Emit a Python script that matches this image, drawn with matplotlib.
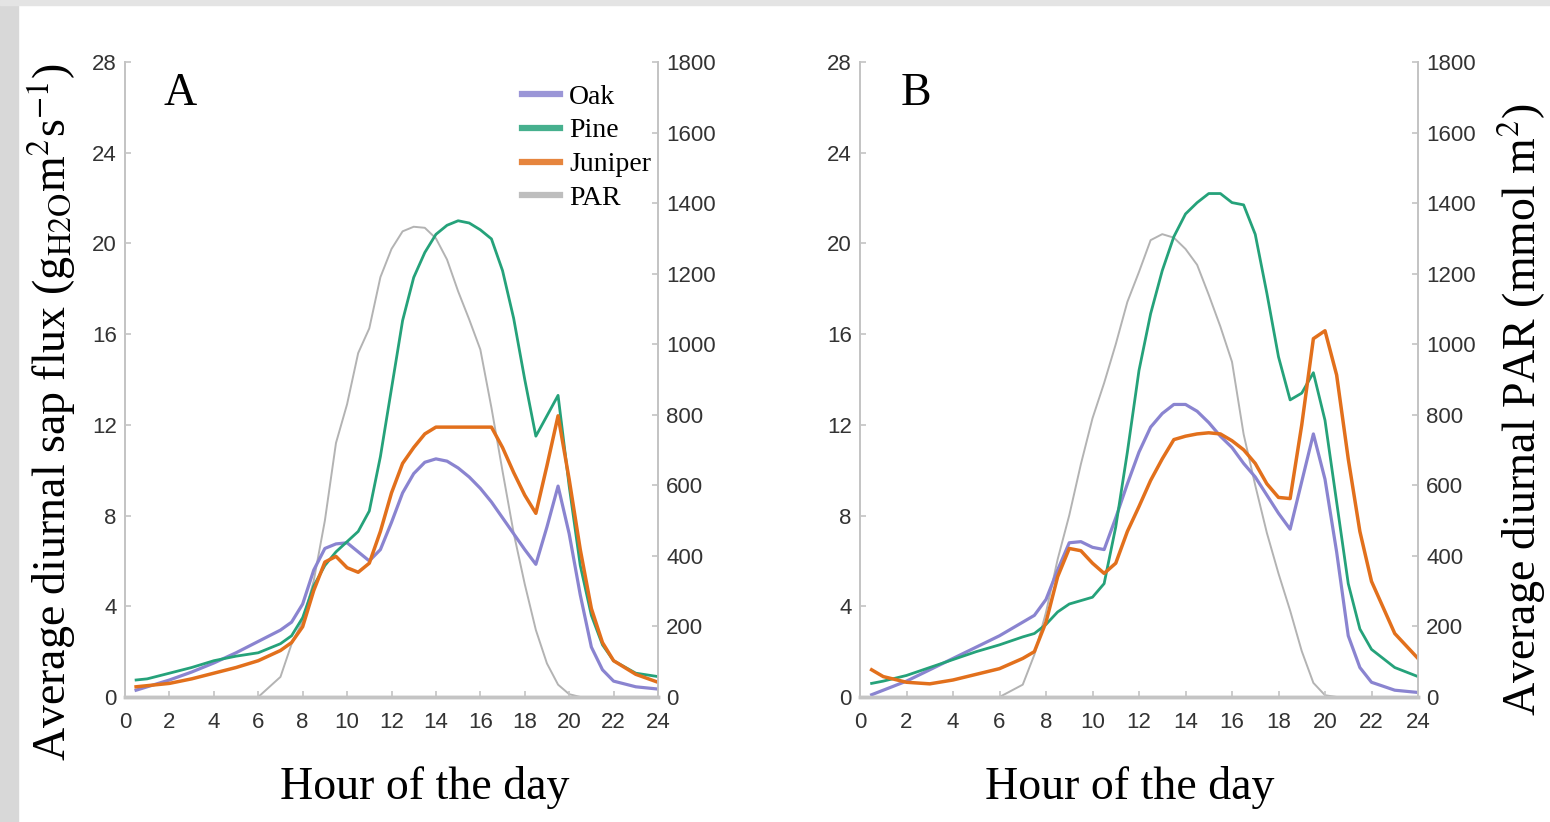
import numpy as np
import matplotlib.pyplot as plt
from matplotlib.lines import Line2D
from matplotlib.patches import Rectangle

plt.rcParams['mathtext.fontset'] = 'stix'

# hour grid used for both panels
hours = [0.5, 1, 2, 3, 4, 5, 6, 7, 7.5, 8, 8.5, 9, 9.5, 10, 10.5, 11, 11.5, 12, 12.5, 13,
         13.5, 14, 14.5, 15, 15.5, 16, 16.5, 17, 17.5, 18, 18.5, 19, 19.5, 20, 20.5, 21,
         21.5, 22, 23, 24]

# panel A (sap flux, g m-2 s-1)
oak_a = [0.3, 0.45, 0.75, 1.1, 1.5, 1.95, 2.45, 2.95, 3.3, 4.1, 5.6, 6.55, 6.75, 6.8, 6.4, 6.0,
         6.5, 7.7, 9.0, 9.85, 10.35, 10.5, 10.4, 10.1, 9.7, 9.2, 8.6, 7.9, 7.2, 6.5, 5.85, 7.5,
         9.3, 7.2, 4.5, 2.2, 1.2, 0.7, 0.45, 0.35]
pine_a = [0.75, 0.8, 1.05, 1.3, 1.6, 1.8, 1.95, 2.35, 2.7, 3.5, 4.9, 5.8, 6.4, 6.85, 7.3, 8.2,
          10.6, 13.6, 16.6, 18.5, 19.6, 20.4, 20.8, 21.0, 20.9, 20.6, 20.2, 18.8, 16.7, 14.0,
          11.5, 12.4, 13.3, 9.3, 5.8, 3.6, 2.3, 1.6, 1.05, 0.9]
juniper_a = [0.45, 0.5, 0.6, 0.8, 1.05, 1.3, 1.6, 2.05, 2.4, 3.1, 4.7, 5.95, 6.2, 5.7, 5.5, 5.9,
             7.3, 9.0, 10.3, 11.0, 11.6, 11.9, 11.9, 11.9, 11.9, 11.9, 11.9, 11.0, 9.9, 8.9,
             8.1, 10.2, 12.4, 9.6, 6.5, 3.9, 2.4, 1.6, 1.0, 0.65]
par_a = [0, 0, 0, 0, 0, 0, 0, 57, 150, 215, 330, 500, 720, 830, 975, 1045, 1190, 1270, 1320,
         1333, 1330, 1300, 1240, 1150, 1070, 985, 820, 640, 465, 320, 190, 95, 35, 8, 0, 0,
         0, 0, 0, 0]

# panel B
oak_b = [0.1, 0.3, 0.7, 1.2, 1.7, 2.2, 2.7, 3.3, 3.6, 4.3, 5.6, 6.8, 6.85, 6.6, 6.5, 7.9, 9.4,
         10.8, 11.9, 12.5, 12.9, 12.9, 12.6, 12.1, 11.5, 11.0, 10.3, 9.7, 8.9, 8.1, 7.4, 9.5,
         11.6, 9.6, 6.4, 2.7, 1.3, 0.65, 0.3, 0.2]
pine_b = [0.6, 0.7, 0.95, 1.3, 1.65, 2.0, 2.3, 2.65, 2.8, 3.2, 3.75, 4.1, 4.25, 4.4, 5.0, 7.5,
          10.8, 14.4, 16.9, 18.8, 20.3, 21.3, 21.8, 22.2, 22.2, 21.8, 21.7, 20.4, 17.8, 15.0,
          13.1, 13.4, 14.3, 12.2, 8.6, 5.0, 3.0, 2.1, 1.3, 0.9]
juniper_b = [1.2, 0.9, 0.65, 0.58, 0.75, 1.0, 1.25, 1.7, 2.0, 3.3, 5.3, 6.55, 6.45, 5.9, 5.45,
             5.9, 7.3, 8.4, 9.55, 10.5, 11.35, 11.5, 11.6, 11.65, 11.6, 11.3, 10.9, 10.3, 9.4,
             8.8, 8.75, 12.0, 15.8, 16.15, 14.2, 10.5, 7.3, 5.1, 2.8, 1.7]
par_b = [0, 0, 0, 0, 0, 0, 0, 35, 120, 240, 390, 515, 660, 790, 890, 1000, 1120, 1205, 1295,
         1312, 1302, 1270, 1225, 1140, 1050, 950, 745, 600, 465, 350, 245, 130, 40, 5, 0, 0,
         0, 0, 0, 0]

names = ['Oak', 'Pine', 'Juniper', 'PAR']
colors = {'Oak': '#8a84d0', 'Pine': '#25a27a', 'Juniper': '#e2701c', 'PAR': '#b3b3b3'}
widths = {'Oak': 2.3, 'Pine': 2.0, 'Juniper': 2.5, 'PAR': 1.4}

tick_font = ['Liberation Sans', 'DejaVu Sans']
serif = ['Liberation Serif', 'DejaVu Serif']
spine_col = '#c4c4c4'

fig = plt.figure(figsize=(15.5, 8.22), dpi=100)
fig.patches.append(Rectangle((0, 0), 18 / 1550, 1, transform=fig.transFigure,
                             color='#d8d8d8', zorder=-1))
fig.patches.append(Rectangle((0, 1 - 5 / 822), 1, 5 / 822, transform=fig.transFigure,
                             color='#e4e4e4', zorder=-1))


def panel(rect, oak, pine, juniper, par, letter, legend=False):
    ax = fig.add_axes(rect)
    ax2 = ax.twinx()
    ax.set_zorder(ax2.get_zorder() + 1)
    ax.patch.set_visible(False)
    ax2.plot(hours, par, color=colors['PAR'], lw=widths['PAR'])
    ax.plot(hours, oak, color=colors['Oak'], lw=widths['Oak'])
    ax.plot(hours, pine, color=colors['Pine'], lw=widths['Pine'])
    ax.plot(hours, juniper, color=colors['Juniper'], lw=widths['Juniper'])
    ax.set_xlim(0, 24)
    ax.set_ylim(0, 28)
    ax2.set_ylim(0, 1800)
    ax.set_xticks(range(0, 25, 2))
    ax.set_yticks(range(0, 29, 4))
    ax2.set_yticks(range(0, 1801, 200))
    for a in (ax, ax2):
        a.spines['top'].set_visible(False)
        for s in ('left', 'right'):
            a.spines[s].set_color(spine_col)
            a.spines[s].set_linewidth(1.3)
        a.spines['bottom'].set_color(spine_col)
        a.spines['bottom'].set_linewidth(2.5)
        a.tick_params(direction='in', length=4, width=1.2, color=spine_col,
                      labelcolor='#333333', labelsize=16, pad=6)
        for t in a.get_xticklabels() + a.get_yticklabels():
            t.set_family(tick_font)
    ax.tick_params(axis='x', pad=11)
    ax.text(0.072, 0.932, letter, transform=ax.transAxes, fontsize=33, family=serif)
    if legend:
        handles = [Line2D([], [], color=colors[k], lw=4.5, alpha=0.85) for k in names]
        ax.legend(handles, names, loc='upper left',
                  bbox_to_anchor=(0.745, 0.965), frameon=False,
                  prop={'family': serif, 'size': 20}, handlelength=1.35,
                  handletextpad=0.35, labelspacing=0.3, borderpad=0, borderaxespad=0)
    return ax, ax2


panel([125 / 1550, 125 / 822, 533 / 1550, 635 / 822], oak_a, pine_a, juniper_a, par_a, 'A', legend=True)
panel([860 / 1550, 125 / 822, 558 / 1550, 635 / 822], oak_b, pine_b, juniper_b, par_b, 'B')

fig.text(52 / 1550, 1 - 412 / 822, r'Average diurnal sap flux (g$_{\mathrm{H2O}}$m$^{2}$s$^{-1}$)',
         rotation=90, ha='center', va='center', fontsize=33, family=serif)
fig.text(1522 / 1550, 1 - 410 / 822, r'Average diurnal PAR (mmol m$^{2}$)',
         rotation=90, ha='center', va='center', fontsize=33, family=serif)
fig.text(425 / 1550, 1 - 787 / 822, 'Hour of the day', ha='center', va='center',
         fontsize=33, family=serif)
fig.text(1130 / 1550, 1 - 787 / 822, 'Hour of the day', ha='center', va='center',
         fontsize=33, family=serif)

fig.savefig('out.png', dpi=100)
